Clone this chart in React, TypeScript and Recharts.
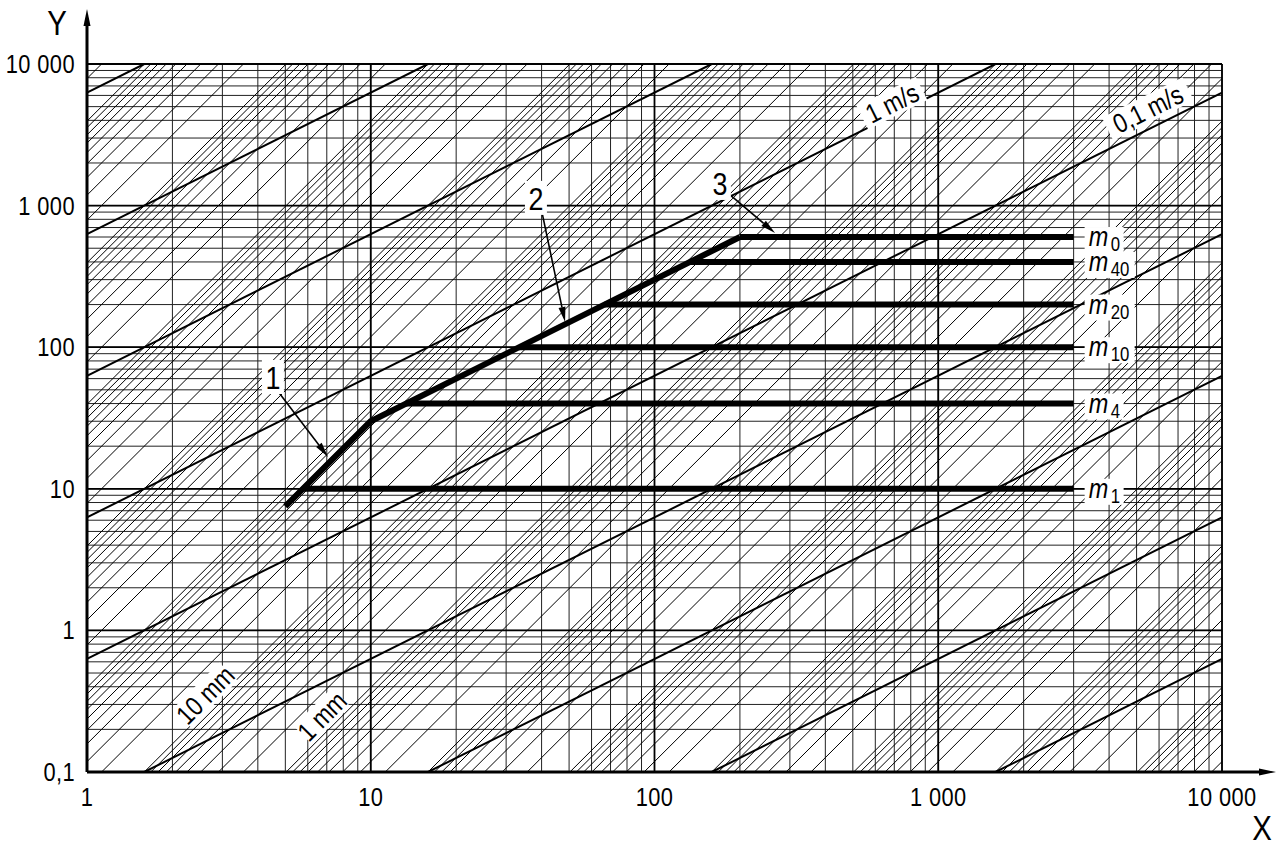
import React from "react";
import {
  ComposedChart,
  Line,
  XAxis,
  YAxis,
  CartesianGrid,
  ReferenceLine,
  ReferenceDot,
} from "recharts";

const FONT = "'Liberation Sans', Arimo, 'DejaVu Sans', sans-serif";
const NARROW = 0.84;

// axes
const decadesX = [1, 10, 100, 1000, 10000];
const xTickLabels = ["1", "10", "100", "1 000", "10 000"];
const decadesY = [0.1, 1, 10, 100, 1000, 10000];
const yTickLabels = ["0,1", "1", "10", "100", "1 000", "10 000"];
const subSteps = [1, 2, 3, 4, 5, 6, 7, 8, 9];

// nomograph families: constant velocity (m/s) and constant displacement (m)
const velocities = [1e-5, 1e-4, 1e-3, 1e-2, 1e-1, 1, 10, 100, 1000];
const displacementDecades = [1e-11, 1e-10, 1e-9, 1e-8, 1e-7, 1e-6, 1e-5, 1e-4, 1e-3, 1e-2, 1e-1, 1, 10, 100];

// heavy curves
const envelopeF = [5, 10, 200];
const envelopeA = [7.5, 30, 600];
const classNames = ["0", "40", "20", "10", "4", "1"];
const classLevels = [600, 400, 200, 100, 40, 10];
const classStartF = [200, 133.3, 66.7, 33.3, 13.3, 5.77];
const classEndF = 3000;

// annotations
const speedLabels = ["1 m/s", "0,1 m/s"];
const speedLabelF = [687, 5480];
const speedLabelA = [5300, 4810];
const strokeLabels = ["10 mm", "1 mm"];
const strokeLabelF = [2.61, 6.73];
const strokeLabelA = [0.35, 0.248];
const leaderNames = ["1", "2", "3"];
const leaderTextF = [4.52, 38.2, 170];
const leaderTextA = [61.6, 1133, 1445];
const leaderFromF = [4.67, 40.1, 181.5];
const leaderFromA = [49.9, 902, 1227];
const leaderToF = [7.07, 48.4, 266];
const leaderToA = [16.8, 150.6, 640];

const LOG2PI = Math.log10(2 * Math.PI);

const xTicks: number[] = [];
decadesX.slice(0, 4).forEach((d) => subSteps.forEach((m) => xTicks.push(d * m)));
xTicks.push(10000);
const yTicks: number[] = [];
decadesY.slice(0, 5).forEach((d) => subSteps.forEach((m) => yTicks.push(d * m)));
yTicks.push(10000);

// line log(a) = slope*log(f) + c, clipped to the plotting box
function clipSegment(slope: number, c: number) {
  const lo = Math.max(0, (-1 - c) / slope);
  const hi = Math.min(4, (4 - c) / slope);
  if (hi - lo < 1e-6) return null;
  return [
    { x: Math.pow(10, lo), y: Math.pow(10, slope * lo + c) },
    { x: Math.pow(10, hi), y: Math.pow(10, slope * hi + c) },
  ];
}

const displacementSegs: any[] = [];
displacementDecades.forEach((d) =>
  subSteps.forEach((m) => {
    const seg = clipSegment(2, 2 * LOG2PI + Math.log10(d * m));
    if (seg) displacementSegs.push(seg);
  })
);
const velocitySegs: any[] = [];
velocities.forEach((v) => {
  const seg = clipSegment(1, LOG2PI + Math.log10(v));
  if (seg) velocitySegs.push(seg);
});

const envelopeData = envelopeF.map((f, i) => ({ f, a: envelopeA[i] }));
const classData = classLevels.map((lvl, i) => [
  { f: classStartF[i], a: lvl },
  { f: classEndF, a: lvl },
]);

const labelIndex = (v: number, list: number[]) =>
  list.findIndex((d) => Math.abs(Math.log10(v) - Math.log10(d)) < 1e-6);

// text squeezed horizontally, like the narrow drawing lettering
const NText = ({ x, y, size, anchor = "start", italic = false, spacing = 0, children }: any) => (
  <text
    transform={`translate(${x},${y}) scale(${NARROW},1)`}
    x={0}
    y={0}
    textAnchor={anchor}
    fontFamily={FONT}
    fontStyle={italic ? "italic" : "normal"}
    fontSize={size}
    letterSpacing={spacing}
    fill="#000"
  >
    {children}
  </text>
);

const XTick = (p: any) => {
  const i = labelIndex(p.payload.value, decadesX);
  if (i < 0) return <g />;
  return (
    <NText x={p.x} y={p.y + 34} size={26} spacing={0.5} anchor="middle">
      {xTickLabels[i]}
    </NText>
  );
};

const YTick = (p: any) => {
  const i = labelIndex(p.payload.value, decadesY);
  if (i < 0) return <g />;
  return (
    <NText x={p.x - 12} y={p.y + 9} size={26} spacing={0.5} anchor="end">
      {yTickLabels[i]}
    </NText>
  );
};

const arrowHead = (x1: number, y1: number, x2: number, y2: number, L: number, w: number) => {
  const len = Math.hypot(x2 - x1, y2 - y1);
  const ux = (x2 - x1) / len;
  const uy = (y2 - y1) / len;
  const bx = x2 - ux * L;
  const by = y2 - uy * L;
  return {
    bx,
    by,
    pts: `${x2},${y2} ${bx - uy * w},${by + ux * w} ${bx + uy * w},${by - ux * w}`,
  };
};

const LeaderShape = (p: any) => {
  const h = arrowHead(p.x1, p.y1, p.x2, p.y2, 15, 3.5);
  return (
    <g>
      <line x1={p.x1} y1={p.y1} x2={h.bx} y2={h.by} stroke="#000" strokeWidth={1.6} />
      <polygon points={h.pts} fill="#000" />
    </g>
  );
};

const YAxisArrow = (p: any) => {
  const x = p.x1;
  const bottom = Math.max(p.y1, p.y2);
  const tip = Math.min(p.y1, p.y2) - 55;
  const h = arrowHead(x, bottom, x, tip, 17, 3.5);
  return (
    <g>
      <line x1={x} y1={bottom} x2={x} y2={h.by} stroke="#000" strokeWidth={3} />
      <polygon points={h.pts} fill="#000" />
      <NText x={x - 30} y={tip + 26} size={35} anchor="middle">
        Y
      </NText>
    </g>
  );
};

const XAxisArrow = (p: any) => {
  const y = p.y1;
  const left = Math.min(p.x1, p.x2);
  const tip = Math.max(p.x1, p.x2) + 54;
  const h = arrowHead(left, y, tip, y, 17, 3.5);
  return (
    <g>
      <line x1={left} y1={y} x2={h.bx} y2={y} stroke="#000" strokeWidth={3} />
      <polygon points={h.pts} fill="#000" />
      <NText x={tip - 14} y={y + 68} size={35} anchor="middle">
        X
      </NText>
    </g>
  );
};

const RotatedLabel = (text: string, angle: number) => (p: any) => {
  const w = text.length * 12 + 6;
  return (
    <g transform={`translate(${p.cx},${p.cy}) rotate(${angle})`}>
      <rect x={-w / 2} y={-13} width={w} height={26} fill="#fff" />
      <NText x={0} y={9.5} size={27} anchor="middle">
        {text}
      </NText>
    </g>
  );
};

const LeaderText = (text: string) => (p: any) => (
  <g>
    <rect x={p.cx - 11} y={p.cy - 17} width={22} height={34} fill="#fff" />
    <NText x={p.cx} y={p.cy + 12} size={32} anchor="middle">
      {text}
    </NText>
  </g>
);

const ClassLabel = (sub: string) => (p: any) => {
  const x = p.cx + 15;
  const w = 28 + sub.length * 11;
  return (
    <g>
      <rect x={x - 4} y={p.cy - 10} width={w} height={26} fill="#fff" />
      <NText x={x} y={p.cy + 9} size={28} italic>
        m
      </NText>
      <NText x={x + 22} y={p.cy + 14} size={20}>
        {sub}
      </NText>
    </g>
  );
};

export default function App() {
  return (
    <div style={{ position: "absolute", left: 0, top: 0, width: 1277, height: 846, overflow: "hidden", background: "#fff" }}>
      <ComposedChart
        width={1277}
        height={846}
        data={envelopeData}
        margin={{ top: 64, right: 55, left: 0, bottom: 0 }}
      >
        <CartesianGrid stroke="#222" strokeWidth={1} />
        <XAxis
          dataKey="f"
          type="number"
          scale="log"
          domain={[1, 10000]}
          allowDataOverflow
          ticks={xTicks}
          interval={0}
          height={74}
          axisLine={false}
          tickLine={false}
          tickSize={0}
          tickMargin={0}
          tick={<XTick />}
        />
        <YAxis
          dataKey="a"
          type="number"
          scale="log"
          domain={[0.1, 10000]}
          allowDataOverflow
          ticks={yTicks}
          interval={0}
          width={87}
          axisLine={false}
          tickLine={false}
          tickSize={0}
          tickMargin={0}
          tick={<YTick />}
        />

        {/* decade grid lines, a bit heavier */}
        {decadesX.map((d) => (
          <ReferenceLine key={`dx${d}`} x={d} stroke="#000" strokeWidth={1.8} ifOverflow="visible" />
        ))}
        {decadesY.map((d) => (
          <ReferenceLine key={`dy${d}`} y={d} stroke="#000" strokeWidth={1.8} ifOverflow="visible" />
        ))}

        {/* constant displacement hatching */}
        {displacementSegs.map((seg, i) => (
          <ReferenceLine key={`d${i}`} segment={seg} stroke="#000" strokeWidth={1} ifOverflow="hidden" />
        ))}

        {/* constant velocity lines */}
        {velocitySegs.map((seg, i) => (
          <ReferenceLine key={`v${i}`} segment={seg} stroke="#000" strokeWidth={2} ifOverflow="hidden" />
        ))}

        {/* curves */}
        <Line
          data={envelopeData}
          dataKey="a"
          stroke="#000"
          strokeWidth={6}
          dot={false}
          isAnimationActive={false}
          strokeLinejoin="round"
        />
        {classData.map((d, i) => (
          <Line
            key={`m${i}`}
            data={d}
            dataKey="a"
            stroke="#000"
            strokeWidth={6}
            dot={false}
            isAnimationActive={false}
          />
        ))}

        {/* axes with arrows */}
        <ReferenceLine x={1} ifOverflow="visible" shape={YAxisArrow} />
        <ReferenceLine y={0.1} ifOverflow="visible" shape={XAxisArrow} />

        {/* leaders */}
        {leaderNames.map((n, i) => (
          <ReferenceLine
            key={`la${n}`}
            segment={[
              { x: leaderFromF[i], y: leaderFromA[i] },
              { x: leaderToF[i], y: leaderToA[i] },
            ]}
            ifOverflow="visible"
            shape={LeaderShape}
          />
        ))}
        {leaderNames.map((n, i) => (
          <ReferenceDot key={`lt${n}`} x={leaderTextF[i]} y={leaderTextA[i]} r={0} ifOverflow="visible" shape={LeaderText(n)} />
        ))}

        {/* family labels */}
        {speedLabels.map((t, i) => (
          <ReferenceDot key={`sl${i}`} x={speedLabelF[i]} y={speedLabelA[i]} r={0} ifOverflow="visible" shape={RotatedLabel(t, -26.5)} />
        ))}
        {strokeLabels.map((t, i) => (
          <ReferenceDot key={`dl${i}`} x={strokeLabelF[i]} y={strokeLabelA[i]} r={0} ifOverflow="visible" shape={RotatedLabel(t, -45)} />
        ))}

        {/* class labels */}
        {classNames.map((n, i) => (
          <ReferenceDot key={`cl${n}`} x={classEndF} y={classLevels[i]} r={0} ifOverflow="visible" shape={ClassLabel(n)} />
        ))}
      </ComposedChart>
    </div>
  );
}
